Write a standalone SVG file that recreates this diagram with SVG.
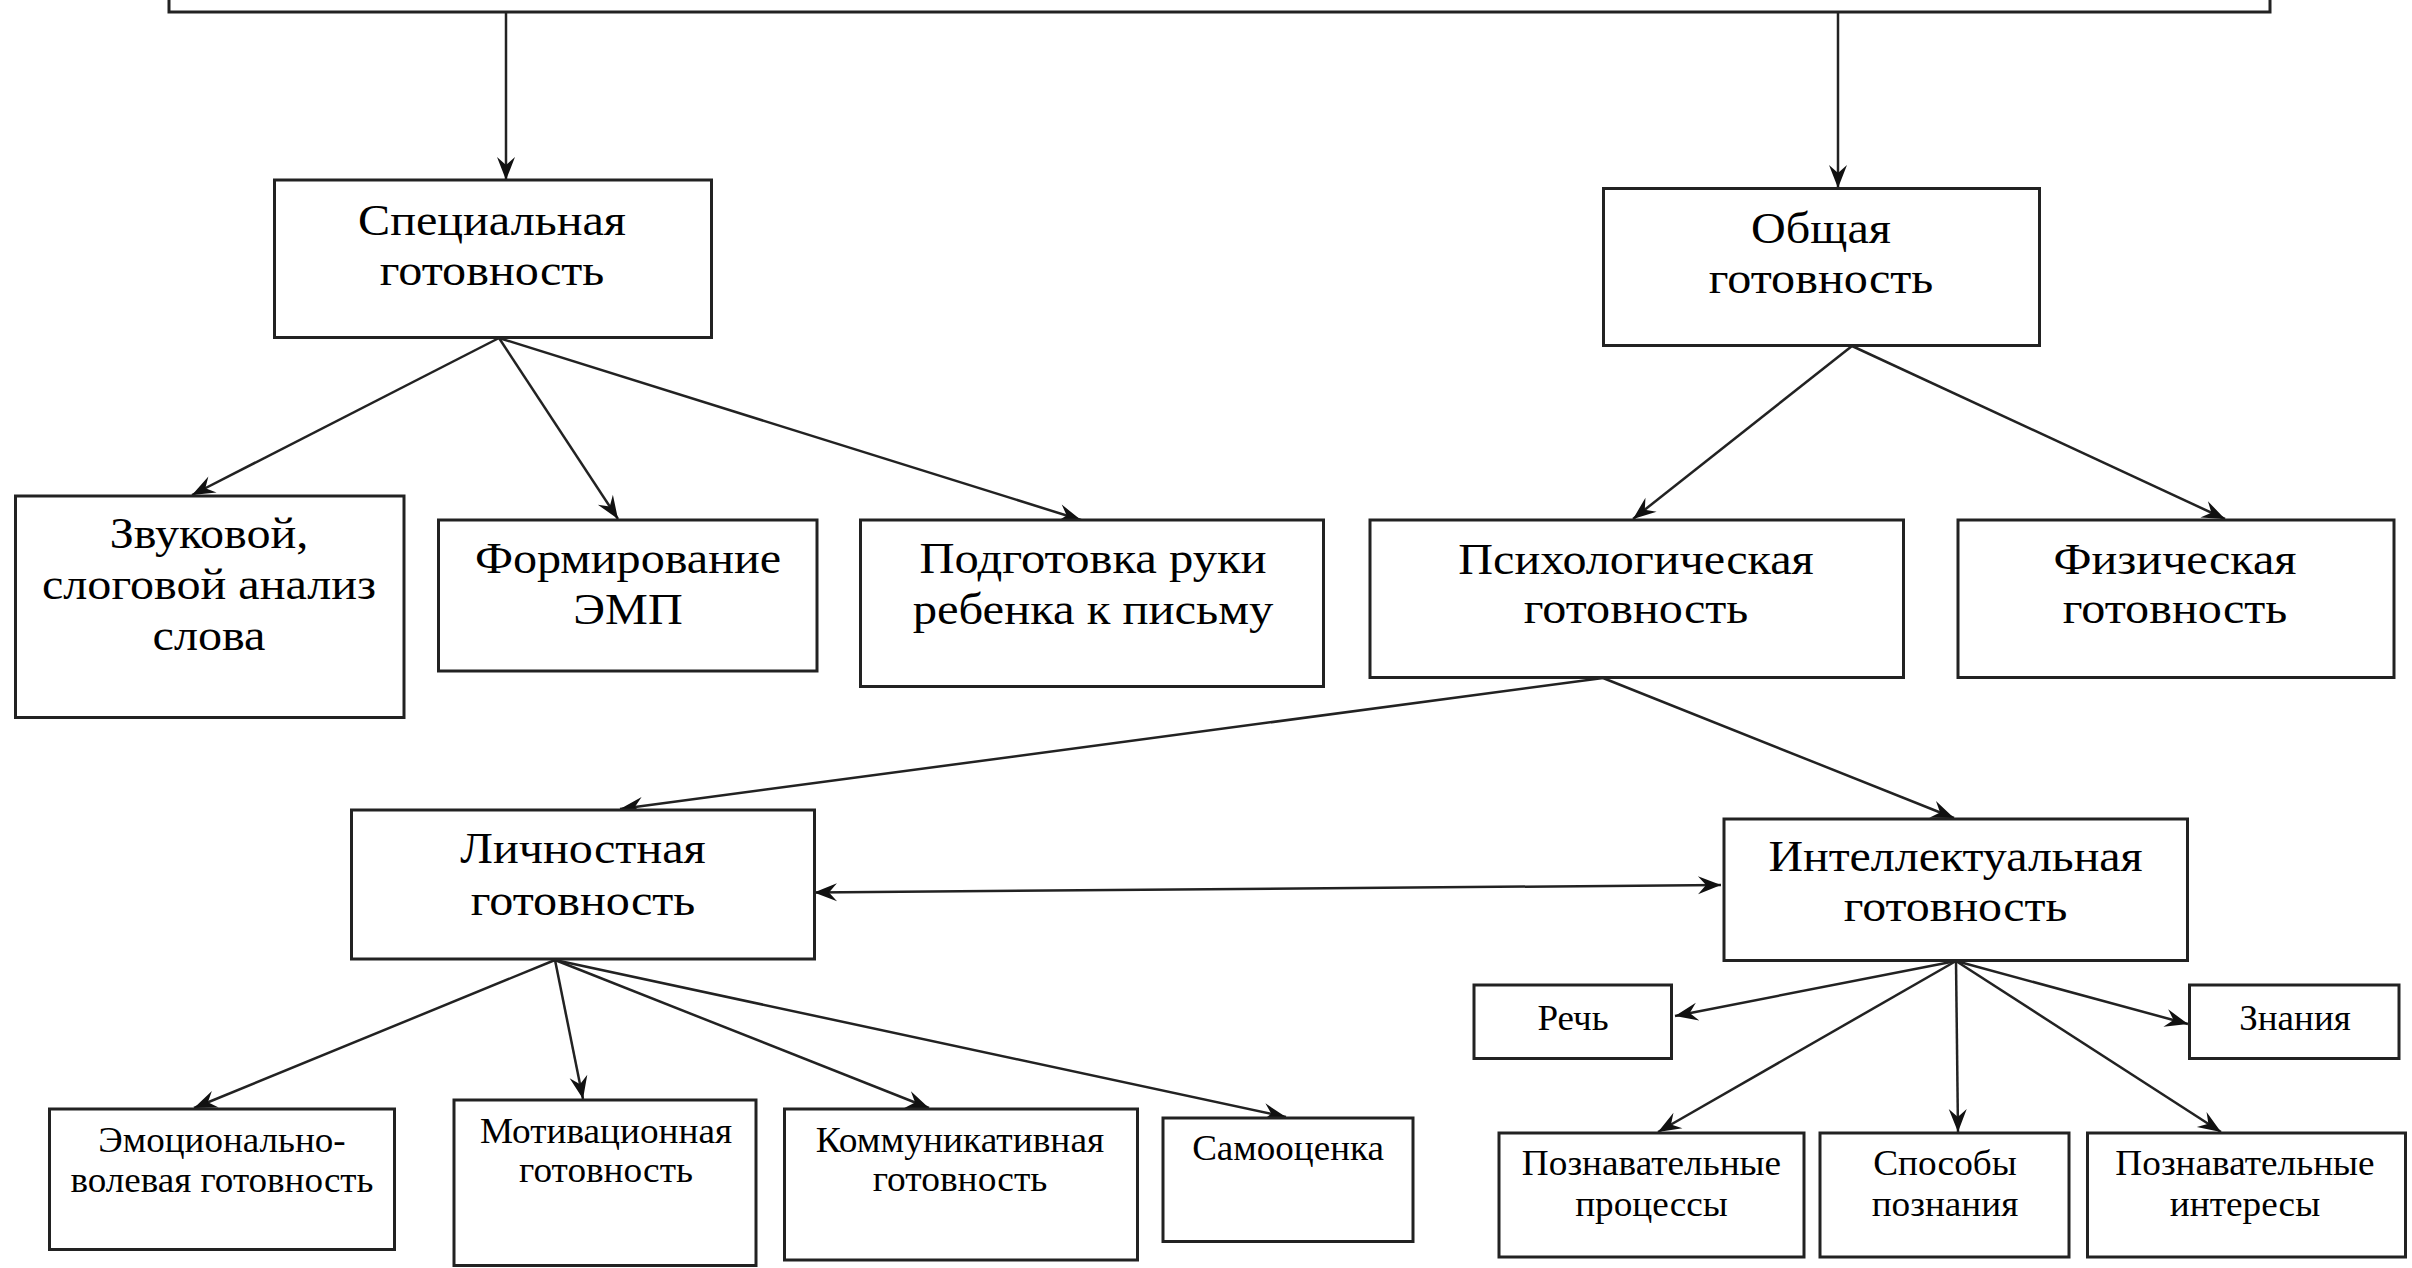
<svg xmlns="http://www.w3.org/2000/svg" width="2412" height="1268" viewBox="0 0 2412 1268">
<style>
.box{fill:#fff;stroke:#222;stroke-width:3}
.t{font-family:"Liberation Serif","Times New Roman",serif;fill:#000;text-anchor:middle}
.L{font-size:45px}
.S{font-size:36px}
.c{fill:none;stroke:#222;stroke-width:2.5}
</style>
<defs>
<marker id="ah" markerUnits="userSpaceOnUse" markerWidth="26" markerHeight="22" viewBox="-25 -11 26 22" refX="0" refY="0" orient="auto-start-reverse">
<path d="M0,0 L-23,-9 L-15,0 L-23,9 Z" fill="#111"/>
</marker>
</defs>
<rect width="2412" height="1268" fill="#fff"/>

<g id="connectors">
<line class="c" x1="506" y1="12" x2="506" y2="180" marker-end="url(#ah)"/>
<line class="c" x1="1838" y1="12" x2="1838" y2="188" marker-end="url(#ah)"/>
<line class="c" x1="499" y1="338" x2="192" y2="495" marker-end="url(#ah)"/>
<line class="c" x1="499" y1="338" x2="618" y2="519" marker-end="url(#ah)"/>
<line class="c" x1="499" y1="338" x2="1081" y2="520" marker-end="url(#ah)"/>
<line class="c" x1="1852" y1="346" x2="1633" y2="519" marker-end="url(#ah)"/>
<line class="c" x1="1852" y1="346" x2="2225" y2="519" marker-end="url(#ah)"/>
<line class="c" x1="1603" y1="678" x2="620" y2="809" marker-end="url(#ah)"/>
<line class="c" x1="1603" y1="678" x2="1954" y2="818" marker-end="url(#ah)"/>
<line class="c" x1="814" y1="892.5" x2="1721" y2="885" marker-start="url(#ah)" marker-end="url(#ah)"/>
<line class="c" x1="555" y1="960" x2="194" y2="1108" marker-end="url(#ah)"/>
<line class="c" x1="555" y1="960" x2="583" y2="1099" marker-end="url(#ah)"/>
<line class="c" x1="555" y1="960" x2="929" y2="1108" marker-end="url(#ah)"/>
<line class="c" x1="555" y1="960" x2="1286" y2="1117" marker-end="url(#ah)"/>
<line class="c" x1="1956" y1="961" x2="1675" y2="1016" marker-end="url(#ah)"/>
<line class="c" x1="1956" y1="961" x2="2188" y2="1024" marker-end="url(#ah)"/>
<line class="c" x1="1956" y1="961" x2="1658" y2="1132" marker-end="url(#ah)"/>
<line class="c" x1="1956" y1="961" x2="1958" y2="1132" marker-end="url(#ah)"/>
<line class="c" x1="1956" y1="961" x2="2221" y2="1132" marker-end="url(#ah)"/>
</g>

<g id="top">
<rect class="box" x="169" y="-20" width="2101" height="32"/>
</g>

<g id="special">
<rect class="box" x="274.5" y="180" width="437" height="157.5"/>
<text class="t L" transform="translate(492 0) scale(1.07 1)" y="235">Специальная</text>
<text class="t L" transform="translate(492 0) scale(1.07 1)" y="285">готовность</text>
</g>

<g id="general">
<rect class="box" x="1603.5" y="188.5" width="436" height="157"/>
<text class="t L" transform="translate(1821 0) scale(1.07 1)" y="243.5">Общая</text>
<text class="t L" transform="translate(1821 0) scale(1.07 1)" y="293">готовность</text>
</g>

<g id="sound">
<rect class="box" x="15.5" y="496" width="388.5" height="221.5"/>
<text class="t L" transform="translate(209 0) scale(1.07 1)" y="548">Звуковой,</text>
<text class="t L" transform="translate(209 0) scale(1.07 1)" y="599">слоговой анализ</text>
<text class="t L" transform="translate(209 0) scale(1.07 1)" y="650">слова</text>
</g>

<g id="emp">
<rect class="box" x="438.5" y="520" width="378.5" height="151"/>
<text class="t L" transform="translate(628 0) scale(1.07 1)" y="573">Формирование</text>
<text class="t L" transform="translate(628 0) scale(1.07 1)" y="624">ЭМП</text>
</g>

<g id="hand">
<rect class="box" x="860.5" y="520" width="463" height="166.5"/>
<text class="t L" transform="translate(1093 0) scale(1.08 1)" y="573">Подготовка руки</text>
<text class="t L" transform="translate(1093 0) scale(1.08 1)" y="624">ребенка к письму</text>
</g>

<g id="psych">
<rect class="box" x="1370" y="520" width="533.5" height="157.5"/>
<text class="t L" transform="translate(1636 0) scale(1.07 1)" y="574">Психологическая</text>
<text class="t L" transform="translate(1636 0) scale(1.07 1)" y="623">готовность</text>
</g>

<g id="phys">
<rect class="box" x="1958" y="520" width="436" height="157.5"/>
<text class="t L" transform="translate(2175 0) scale(1.07 1)" y="574">Физическая</text>
<text class="t L" transform="translate(2175 0) scale(1.07 1)" y="623">готовность</text>
</g>

<g id="personal">
<rect class="box" x="351.5" y="810" width="463" height="149"/>
<text class="t L" transform="translate(583 0) scale(1.07 1)" y="863">Личностная</text>
<text class="t L" transform="translate(583 0) scale(1.07 1)" y="915">готовность</text>
</g>

<g id="intellect">
<rect class="box" x="1724" y="819" width="463.5" height="141.5"/>
<text class="t L" transform="translate(1955.5 0) scale(1.065 1)" y="871">Интеллектуальная</text>
<text class="t L" transform="translate(1955.5 0) scale(1.065 1)" y="921">готовность</text>
</g>

<g id="emotional">
<rect class="box" x="49.5" y="1109" width="345" height="140.5"/>
<text class="t S" transform="translate(222 0) scale(1.03 1)" y="1152">Эмоционально-</text>
<text class="t S" transform="translate(222 0) scale(1.03 1)" y="1192">волевая готовность</text>
</g>

<g id="motivation">
<rect class="box" x="454" y="1100" width="302" height="165.5"/>
<text class="t S" transform="translate(606 0) scale(1.035 1)" y="1143">Мотивационная</text>
<text class="t S" transform="translate(606 0) scale(1.035 1)" y="1182">готовность</text>
</g>

<g id="communicative">
<rect class="box" x="784.5" y="1109" width="353" height="151"/>
<text class="t S" transform="translate(960 0) scale(1.04 1)" y="1152">Коммуникативная</text>
<text class="t S" transform="translate(960 0) scale(1.04 1)" y="1191">готовность</text>
</g>

<g id="selfesteem">
<rect class="box" x="1163" y="1118" width="250" height="123.5"/>
<text class="t S" transform="translate(1288 0) scale(1.03 1)" y="1160">Самооценка</text>
</g>

<g id="speech">
<rect class="box" x="1474" y="985" width="197.5" height="73.5"/>
<text class="t S" transform="translate(1573 0) scale(1.03 1)" y="1030">Речь</text>
</g>

<g id="knowledge">
<rect class="box" x="2189.5" y="985" width="209.5" height="73.5"/>
<text class="t S" transform="translate(2295 0) scale(1.03 1)" y="1030">Знания</text>
</g>

<g id="processes">
<rect class="box" x="1499" y="1133" width="305" height="124"/>
<text class="t S" transform="translate(1651.5 0) scale(1.035 1)" y="1175">Познавательные</text>
<text class="t S" transform="translate(1651.5 0) scale(1.035 1)" y="1216">процессы</text>
</g>

<g id="ways">
<rect class="box" x="1820" y="1133" width="249" height="124"/>
<text class="t S" transform="translate(1945 0) scale(1.035 1)" y="1175">Способы</text>
<text class="t S" transform="translate(1945 0) scale(1.035 1)" y="1216">познания</text>
</g>

<g id="interests">
<rect class="box" x="2087.5" y="1133" width="318" height="124"/>
<text class="t S" transform="translate(2245 0) scale(1.035 1)" y="1175">Познавательные</text>
<text class="t S" transform="translate(2245 0) scale(1.035 1)" y="1216">интересы</text>
</g>
</svg>
